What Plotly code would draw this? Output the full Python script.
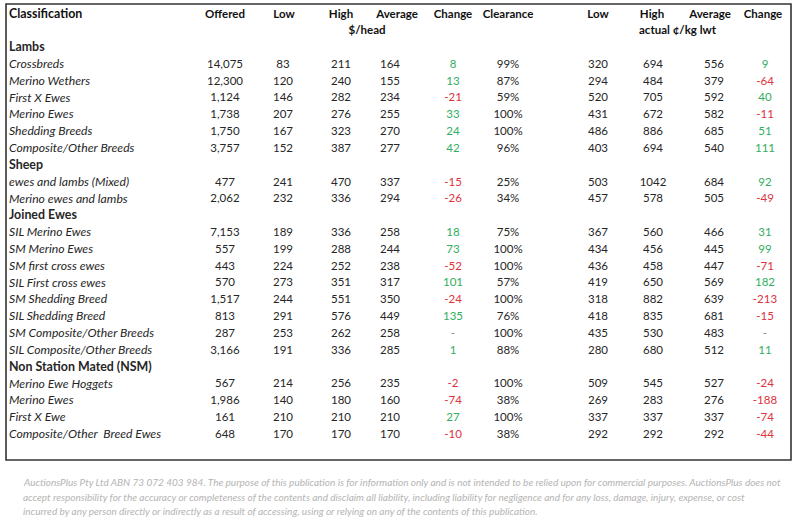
import plotly.graph_objects as go

# ---------------- data ----------------
classification = [
    "Lambs", "Crossbreds", "Merino Wethers", "First X Ewes", "Merino Ewes",
    "Shedding Breeds", "Composite/Other Breeds",
    "Sheep", "ewes and lambs (Mixed)", "Merino ewes and lambs",
    "Joined Ewes", "SIL Merino Ewes", "SM Merino Ewes", "SM first cross ewes",
    "SIL First cross ewes", "SM Shedding Breed", "SIL Shedding Breed",
    "SM Composite/Other Breeds", "SIL Composite/Other Breeds",
    "Non Station Mated (NSM)", "Merino Ewe Hoggets", "Merino Ewes", "First X Ewe",
    "Composite/Other  Breed Ewes",
]
is_group = [True, False, False, False, False, False, False,
            True, False, False,
            True, False, False, False, False, False, False, False, False,
            True, False, False, False, False]
offered = [None, 14075, 12300, 1124, 1738, 1750, 3757,
           None, 477, 2062,
           None, 7153, 557, 443, 570, 1517, 813, 287, 3166,
           None, 567, 1986, 161, 648]
low_head = [None, 83, 120, 146, 207, 167, 152,
            None, 241, 232,
            None, 189, 199, 224, 273, 244, 291, 253, 191,
            None, 214, 140, 210, 170]
high_head = [None, 211, 240, 282, 276, 323, 387,
             None, 470, 336,
             None, 336, 288, 252, 351, 551, 576, 262, 336,
             None, 256, 180, 210, 170]
avg_head = [None, 164, 155, 234, 255, 270, 277,
            None, 337, 294,
            None, 258, 244, 238, 317, 350, 449, 258, 285,
            None, 235, 160, 210, 170]
change_head = [None, 8, 13, -21, 33, 24, 42,
               None, -15, -26,
               None, 18, 73, -52, 101, -24, 135, "-", 1,
               None, -2, -74, 27, -10]
clearance = [None, 99, 87, 59, 100, 100, 96,
             None, 25, 34,
             None, 75, 100, 100, 57, 100, 76, 100, 88,
             None, 100, 38, 100, 38]
low_ckg = [None, 320, 294, 520, 431, 486, 403,
           None, 503, 457,
           None, 367, 434, 436, 419, 318, 418, 435, 280,
           None, 509, 269, 337, 292]
high_ckg = [None, 694, 484, 705, 672, 886, 694,
            None, 1042, 578,
            None, 560, 456, 458, 650, 882, 835, 530, 680,
            None, 545, 283, 337, 292]
avg_ckg = [None, 556, 379, 592, 582, 685, 540,
           None, 684, 505,
           None, 466, 445, 447, 569, 639, 681, 483, 512,
           None, 527, 276, 337, 292]
change_ckg = [None, 9, -64, 40, -11, 51, 111,
              None, 92, -49,
              None, 31, 99, -71, 182, -213, -15, "-", 11,
              None, -24, -188, -74, -44]

headers = ["Offered", "Low", "High", "Average", "Change", "Clearance",
           "Low", "High", "Average", "Change"]
sub_headers = ["$/head", "actual ¢/kg lwt"]
footer_lines = [
    "AuctionsPlus Pty Ltd ABN 73 072 403 984. The purpose of this publication is for information only and is not intended to be relied upon for commercial purposes. AuctionsPlus does not",
    "accept responsibility for the accuracy or completeness of the contents and disclaim all liability, including liability for negligence and for any loss, damage, injury, expense, or cost",
    "incurred by any person directly or indirectly as a result of accessing, using or relying on any of the contents of this publication.",
]

# ---------------- styling / layout ----------------
FONT = "Lato"
FS = 11.5
FS_ITEM = 12.2
FS_GROUP = 12.4
TXT = "#262626"
GREEN = "#2fae5f"
RED = "#e0323c"
GREY = "#8a8a8a"

row0_y = 48.0
row_step = 16.83
row_y = [row0_y + i * row_step for i in range(len(classification))]
header_y = 15
sub_y = 31

col_x = [225, 283, 341, 390, 453, 508, 598, 653, 714, 765]
header_x = [225, 284, 341, 397, 453, 508, 598, 652, 710, 763]


def fmt_plain(v):
    return "" if v is None else str(v)


def fmt_comma(v):
    return "" if v is None else f"{v:,}"


def fmt_pct(v):
    return "" if v is None else f"{v}%"


def change_color(v):
    if v is None:
        return TXT
    if isinstance(v, str):
        return GREY
    return GREEN if v > 0 else RED


fig = go.Figure()

# classification column
cls_text = [f"<b>{c}</b>" if g else f"<i>{c}</i>" for c, g in zip(classification, is_group)]
cls_size = [FS_GROUP if g else FS_ITEM for g in is_group]
fig.add_trace(go.Scatter(
    x=[9] * len(classification), y=row_y, mode="text", text=cls_text,
    textposition="middle right",
    textfont=dict(family=FONT, size=cls_size, color=TXT), hoverinfo="skip",
))

columns = [
    (offered, fmt_comma, False),
    (low_head, fmt_plain, False),
    (high_head, fmt_plain, False),
    (avg_head, fmt_plain, False),
    (change_head, fmt_plain, True),
    (clearance, fmt_pct, False),
    (low_ckg, fmt_plain, False),
    (high_ckg, fmt_plain, False),
    (avg_ckg, fmt_plain, False),
    (change_ckg, fmt_plain, True),
]

for (vals, fmt, colored), x in zip(columns, col_x):
    colors = [change_color(v) for v in vals] if colored else TXT
    fig.add_trace(go.Scatter(
        x=[x] * len(vals), y=row_y, mode="text", text=[fmt(v) for v in vals],
        textposition="middle center",
        textfont=dict(family=FONT, size=FS, color=colors), hoverinfo="skip",
    ))

# headers
fig.add_trace(go.Scatter(
    x=[9], y=[header_y], mode="text", text=["<b>Classification</b>"],
    textposition="middle right", textfont=dict(family=FONT, size=FS_GROUP, color="#111"),
    hoverinfo="skip",
))
fig.add_trace(go.Scatter(
    x=header_x, y=[header_y] * len(headers), mode="text",
    text=[f"<b>{h}</b>" for h in headers], textposition="middle center",
    textfont=dict(family=FONT, size=FS, color="#111"), hoverinfo="skip",
))
fig.add_trace(go.Scatter(
    x=[367], y=[sub_y], mode="text", text=[f"<b>{sub_headers[0]}</b>"],
    textposition="middle center", textfont=dict(family=FONT, size=FS, color="#111"),
    hoverinfo="skip",
))
fig.add_trace(go.Scatter(
    x=[639], y=[sub_y], mode="text", text=[f"<b>{sub_headers[1]}</b>"],
    textposition="middle right", textfont=dict(family=FONT, size=FS, color="#111"),
    hoverinfo="skip",
))

# table border
fig.add_shape(type="rect", x0=6, x1=791, y0=4, y1=460, xref="x", yref="y",
              line=dict(color="#333333", width=1.6), layer="above")

# footer
for i, line in enumerate(footer_lines):
    fig.add_annotation(
        x=21, y=482 + i * 14.5, xref="x", yref="y", text=f"<i>{line}</i>",
        showarrow=False, xanchor="left", yanchor="middle",
        font=dict(family=FONT, size=10, color="#b4b4b4"),
    )

fig.update_layout(
    width=798, height=519, margin=dict(l=0, r=0, t=0, b=0),
    paper_bgcolor="white", plot_bgcolor="white", showlegend=False,
    xaxis=dict(range=[0, 798], visible=False, fixedrange=True),
    yaxis=dict(range=[519, 0], visible=False, fixedrange=True),
)

fig.write_html(
    "out.html",
    config={"displayModeBar": False},
    post_script="document.body.style.margin='0';document.body.style.overflow='hidden';",
)
